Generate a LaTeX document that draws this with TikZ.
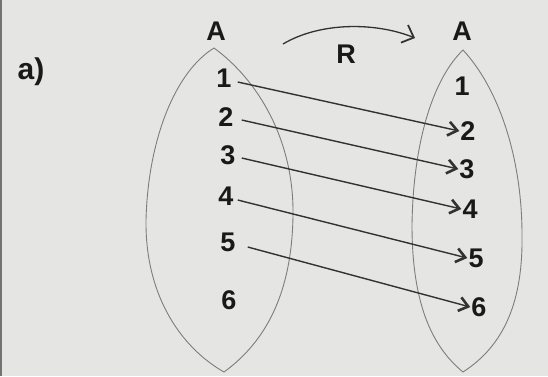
\documentclass[tikz,border=0pt]{standalone}
\usepackage{fontspec}
\setmainfont{Liberation Sans}
\usetikzlibrary{arrows.meta}
\definecolor{bg}{RGB}{229,229,227}
\definecolor{ink}{RGB}{25,25,25}
\definecolor{pencil}{RGB}{125,125,125}
\definecolor{arr}{RGB}{50,50,50}
\tikzset{
  num/.style={text=ink,font=\fontsize{27}{27}\selectfont\bfseries,inner sep=2pt},
  setline/.style={draw=pencil,line width=0.9pt},
  maparrow/.style={draw=arr,line width=1.4pt,-{Straight Barb[length=9pt,width=14pt,line width=2.6pt]}}
}
\begin{document}
\begin{tikzpicture}[x=1pt,y=-1pt]
\fill[bg] (0,0) rectangle (548,376);
\useasboundingbox (0,0) rectangle (548,376);
\fill[black!55] (0,0) rectangle (2,376);
% label a)
\node[num,font=\fontsize{30}{30}\selectfont\bfseries] (lab) at (31,72) {a)};
% set titles
\node[num] (A1) at (216,31) {A};
\node[num] (A2) at (462,31) {A};
\node[num] (R) at (346,54) {R};
% lenses
\draw[setline] (214,48) .. controls (175,72) and (148,140) .. (146,220)
   .. controls (145,300) and (185,350) .. (224,372)
   .. controls (268,340) and (292,290) .. (293,215)
   .. controls (294,140) and (258,80) .. cycle;
\draw[setline] (463,50) .. controls (430,82) and (413,150) .. (412,225)
   .. controls (412,300) and (430,345) .. (463,372)
   .. controls (505,345) and (523,300) .. (522,235)
   .. controls (522,160) and (500,90) .. cycle;
% relation arrow
\coordinate (rs) at (283,44);
\coordinate (re) at (415,38);
\draw[draw=arr,line width=1.3pt,-{Straight Barb[length=10pt,width=19pt,line width=1.8pt]}] (rs) .. controls (320,22) and (375,22) .. (re);
% left elements
\node[num] (l1) at (224,78) {1};
\node[num] (l2) at (226,117) {2};
\node[num] (l3) at (228,155) {3};
\node[num] (l4) at (226,196) {4};
\node[num] (l5) at (228,242) {5};
\node[num] (l6) at (229,300) {6};
% right elements
\node[num] (r1) at (462,86) {1};
\node[num] (r2) at (468,131) {2};
\node[num] (r3) at (467,169) {3};
\node[num] (r4) at (470,209) {4};
\node[num] (r5) at (476,258) {5};
\node[num] (r6) at (479,307) {6};
% mapping arrows
\draw[maparrow] ([xshift=4pt,yshift=-4pt]l1.east) -- ([xshift=1pt]r2.west);
\draw[maparrow] ([xshift=6pt,yshift=-3pt]l2.east) -- ([xshift=1pt]r3.west);
\draw[maparrow] ([xshift=4pt,yshift=-3pt]l3.east) -- ([xshift=1pt]r4.west);
\draw[maparrow] ([xshift=2pt,yshift=-4pt]l4.east) -- ([xshift=1pt]r5.west);
\draw[maparrow] ([xshift=10pt,yshift=-5pt]l5.east) -- ([xshift=1pt]r6.west);
\end{tikzpicture}
\end{document}
